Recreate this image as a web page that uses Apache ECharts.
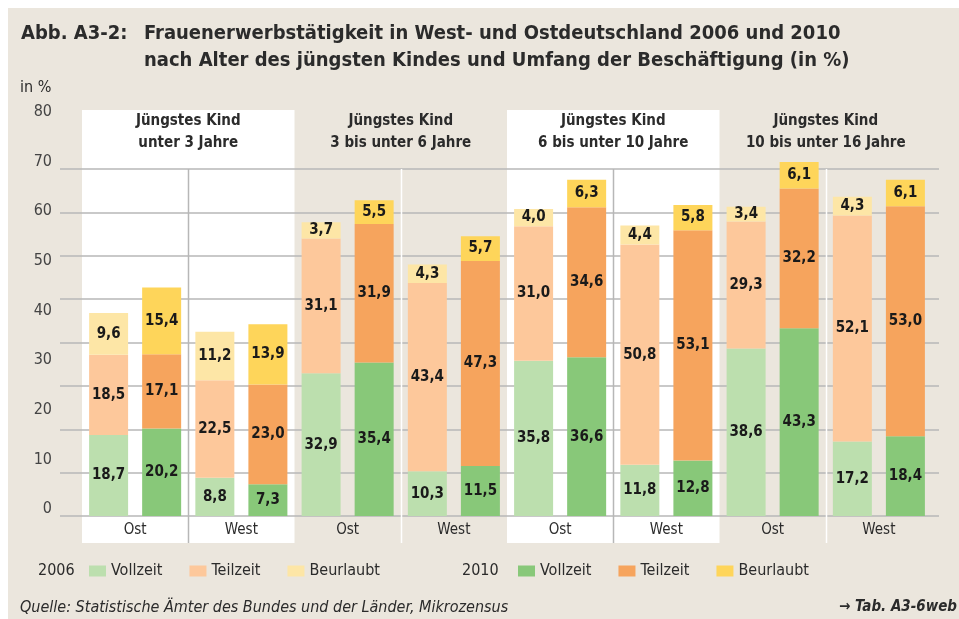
<!DOCTYPE html>
<html>
<head>
<meta charset="utf-8">
<title>Abb. A3-2</title>
<script src="https://cdn.jsdelivr.net/npm/echarts@6/dist/echarts.min.js"></script>
<style>
  html, body { margin: 0; padding: 0; background: #fff; }
  #chart { width: 959px; height: 619px; }
</style>
</head>
<body>
<div id="chart"></div>
<script>
// Werte aus der Abbildung (in %)
const categories = ['Ost', 'West', 'Ost', 'West', 'Ost', 'West', 'Ost', 'West']
const groups = [
  'Jüngstes Kind\nunter 3 Jahre',
  'Jüngstes Kind\n3 bis unter 6 Jahre',
  'Jüngstes Kind\n6 bis unter 10 Jahre',
  'Jüngstes Kind\n10 bis unter 16 Jahre'
]
const vollzeit2006 = [18.7, 8.8, 32.9, 10.3, 35.8, 11.8, 38.6, 17.2]
const teilzeit2006 = [18.5, 22.5, 31.1, 43.4, 31.0, 50.8, 29.3, 52.1]
const beurlaubt2006 = [9.6, 11.2, 3.7, 4.3, 4.0, 4.4, 3.4, 4.3]
const vollzeit2010 = [20.2, 7.3, 35.4, 11.5, 36.6, 12.8, 43.3, 18.4]
const teilzeit2010 = [17.1, 23.0, 31.9, 47.3, 34.6, 53.1, 32.2, 53.0]
const beurlaubt2010 = [15.4, 13.9, 5.5, 5.7, 6.3, 5.8, 6.1, 6.1]
const yMin = 0
const yMax = 80
const yStep = 10

const FONT = "'DejaVu Sans Condensed', 'Liberation Sans Narrow', 'Open Sans', sans-serif"
const TEXT = '#2b2b2b'
const BEIGE = '#ebe6dd'
const GRID_LINE = '#b7b7b7'

const chart = echarts.init(document.getElementById('chart'))

function barSeries(name, stack, data, color) {
  return {
    name: name,
    type: 'bar',
    stack: stack,
    data: data,
    xAxisIndex: 0,
    yAxisIndex: 0,
    barWidth: 39,
    barGap: '36%',
    clip: false,
    itemStyle: { color: color },
    label: {
      show: true,
      position: 'inside',
      fontFamily: FONT,
      fontWeight: 'bold',
      fontSize: 15,
      color: '#1a1a1a',
      textBorderWidth: 0,
      formatter: (p) => p.value.toFixed(1).replace('.', ',')
    }
  }
}

function legendBlock(left, names) {
  return {
    left: left,
    top: 563,
    orient: 'horizontal',
    data: names,
    icon: 'rect',
    itemWidth: 17,
    itemHeight: 11,
    itemGap: 27,
    selectedMode: false,
    padding: 0,
    formatter: (name) => name.split(' ')[0],
    textStyle: { fontFamily: FONT, fontSize: 16, color: TEXT }
  }
}

const option = {
  animation: false,
  backgroundColor: '#fff',
  textStyle: { fontFamily: FONT },
  title: [
    {
      text: 'Abb. A3-2:',
      left: 21,
      top: 20,
      padding: 0,
      textStyle: { fontFamily: FONT, fontWeight: 'bold', fontSize: 20, lineHeight: 27, color: TEXT }
    },
    {
      text: 'Frauenerwerbstätigkeit in West- und Ostdeutschland 2006 und 2010\nnach Alter des jüngsten Kindes und Umfang der Beschäftigung (in %)',
      left: 144,
      top: 20,
      padding: 0,
      textStyle: { fontFamily: FONT, fontWeight: 'bold', fontSize: 20, lineHeight: 27, color: TEXT }
    },
    {
      text: 'in %',
      left: 20,
      top: 80,
      padding: 0,
      textStyle: { fontFamily: FONT, fontWeight: 'normal', fontSize: 16, color: TEXT }
    },
    {
      text: 'Quelle: Statistische Ämter des Bundes und der Länder, Mikrozensus',
      left: 20,
      top: 600,
      padding: 0,
      textStyle: { fontFamily: FONT, fontWeight: 'normal', fontStyle: 'italic', fontSize: 16, color: TEXT }
    },
    {
      text: '→ Tab. A3-6web',
      right: 2,
      top: 600,
      padding: 0,
      textStyle: { fontFamily: FONT, fontWeight: 'bold', fontStyle: 'italic', fontSize: 15, color: TEXT }
    }
  ],
  legend: [
    legendBlock(89, ['Vollzeit 2006', 'Teilzeit 2006', 'Beurlaubt 2006']),
    legendBlock(518, ['Vollzeit 2010', 'Teilzeit 2010', 'Beurlaubt 2010'])
  ],
  grid: [
    { left: 82, right: 27, top: 169, bottom: 103 },  // Balken
    { left: 60, right: 20, top: 169, bottom: 103 },  // Rasterlinien
    { left: 60, right: 20, top: 112, bottom: 110 }   // Achsenbeschriftung
  ],
  xAxis: [
    {
      type: 'category',
      gridIndex: 0,
      data: categories,
      axisLine: { show: false },
      axisTick: { show: false },
      axisLabel: { interval: 0, margin: 7, fontFamily: FONT, fontSize: 15, color: TEXT }
    },
    {
      type: 'category',
      gridIndex: 0,
      position: 'top',
      data: groups,
      axisLine: { show: false },
      axisTick: { show: false },
      axisLabel: {
        interval: 0,
        margin: 15,
        fontFamily: FONT,
        fontWeight: 'bold',
        fontSize: 15,
        lineHeight: 22,
        color: TEXT
      }
    },
    { type: 'value', gridIndex: 1, show: false, min: 0, max: 1 },
    { type: 'value', gridIndex: 2, show: false, min: 0, max: 1 }
  ],
  yAxis: [
    { type: 'value', gridIndex: 0, min: yMin, max: yMax, interval: yStep, show: false },
    {
      type: 'value',
      gridIndex: 1,
      min: yMin,
      max: yMax,
      interval: yStep,
      axisLine: { show: false },
      axisTick: { show: false },
      axisLabel: { show: false },
      splitLine: { show: true, lineStyle: { color: GRID_LINE, width: 1.5 } }
    },
    {
      type: 'value',
      gridIndex: 2,
      min: yMin,
      max: yMax,
      interval: yStep,
      axisLine: { show: false },
      axisTick: { show: false },
      splitLine: { show: false },
      axisLabel: { margin: 8, fontFamily: FONT, fontSize: 16, color: '#444' }
    }
  ],
  series: [
    barSeries('Vollzeit 2006', '2006', vollzeit2006, '#bcdfae'),
    barSeries('Teilzeit 2006', '2006', teilzeit2006, '#fdc89b'),
    barSeries('Beurlaubt 2006', '2006', beurlaubt2006, '#fde6a6'),
    barSeries('Vollzeit 2010', '2010', vollzeit2010, '#88c879'),
    barSeries('Teilzeit 2010', '2010', teilzeit2010, '#f6a45d'),
    barSeries('Beurlaubt 2010', '2010', beurlaubt2010, '#fed55a')
  ]
}

chart.setOption(option)

// Hintergrundfelder und Trennlinien an den Kategoriegrenzen ausrichten
const c0 = chart.convertToPixel({ xAxisIndex: 0 }, 0)
const band = chart.convertToPixel({ xAxisIndex: 0 }, 1) - c0
const edge = (i) => c0 - band / 2 + i * band
const yZero = chart.convertToPixel({ yAxisIndex: 0 }, yMin)
const yTop = chart.convertToPixel({ yAxisIndex: 0 }, yMax)
const panelTop = 110
const panelBottom = yZero + 27

const graphic = [
  {
    type: 'rect',
    z: -2,
    shape: { x: 8, y: 8, width: 959 - 8, height: 619 - 8 },
    style: { fill: BEIGE }
  },
  { type: 'text', z: 5, x: 38, y: 571, style: { text: '2006', fontFamily: FONT, fontSize: 16, fill: TEXT, verticalAlign: 'middle' } },
  { type: 'text', z: 5, x: 462, y: 571, style: { text: '2010', fontFamily: FONT, fontSize: 16, fill: TEXT, verticalAlign: 'middle' } }
]
groups.forEach((g, gi) => {
  const white = gi % 2 === 0
  if (white) {
    graphic.push({
      type: 'rect',
      z: -1,
      shape: { x: edge(gi * 2), y: panelTop, width: edge(gi * 2 + 2) - edge(gi * 2), height: panelBottom - panelTop },
      style: { fill: '#fff' }
    })
  }
  const sx = Math.round(edge(gi * 2 + 1)) + 0.5
  graphic.push({
    type: 'line',
    z: 1,
    shape: { x1: sx, y1: yTop, x2: sx, y2: panelBottom },
    style: { stroke: white ? GRID_LINE : '#fff', lineWidth: 1.5 }
  })
})

chart.setOption({ graphic: graphic })
</script>
</body>
</html>
